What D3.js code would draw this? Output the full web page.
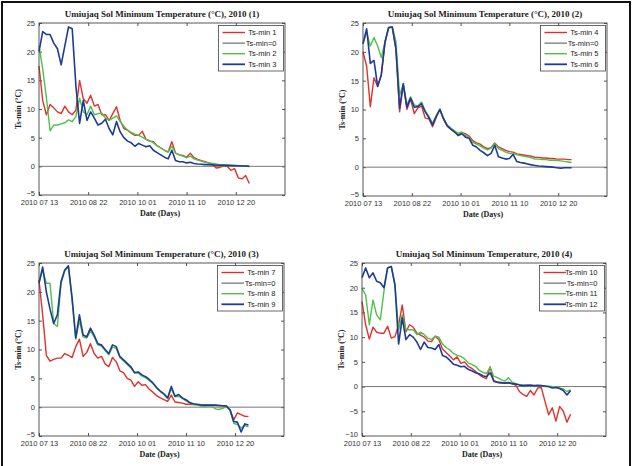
<!DOCTYPE html>
<html>
<head>
<meta charset="utf-8">
<script src="https://cdn.jsdelivr.net/npm/d3@7"></script>
<style>
  body { margin: 0; background: #fff; }
  svg { display: block; }
  .tick text { font-family: "Liberation Sans", Arial, sans-serif; font-size: 7.5px; fill: #333; }
  .title { font-family: "Liberation Serif", "Times New Roman", serif; font-weight: bold; font-size: 9px; fill: #222; }
  .axis-label { font-family: "Liberation Serif", "Times New Roman", serif; font-weight: bold; font-size: 8px; fill: #222; }
  .legend text { font-family: "Liberation Sans", Arial, sans-serif; font-size: 7.5px; fill: #222; }
</style>
</head>
<body>
<div id="chart"></div>
<script>
// days since 2010-07-13
const days = [0,3,6,9,12,15,18,21,24,27,30,33,36,39,42,45,48,51,54,57,60,63,66,69,72,75,78,81,84,87,
  90,93,96,99,102,105,108,111,114,117,120,123,126,129,132,135,138,141,144,147,150,153,156,159,162,165,168,171];

const xTickDays = [0, 40, 80, 120, 160];
const xTickLabels = ["2010 07 13", "2010 08 22", "2010 10 01", "2010 11 10", "2010 12 20"];
const yTicksA = [-5, 0, 5, 10, 15, 20, 25];
const yTicksB = [-10, -5, 0, 5, 10, 15, 20, 25];

// panel (1)
const tsMin1 = [17.5,11.5,9,10.8,10.2,9.5,9.2,10.5,9.5,9,9.8,15,11.8,11,12.4,10.5,10.8,9,9,8,9.2,10.4,8,6.6,6.3,5.8,5.4,5.4,6.1,4.7,
  4.4,4.3,3.6,3.2,2.8,2.5,4.3,2.3,2.0,1.9,1.6,2.3,1.5,1.2,1.0,0.8,0.6,0.4,-0.3,-0.2,0.1,0.0,-0.7,-0.4,-2.0,-2.2,-1.6,-3.0];
const tsMin2 = [21,17,12,6.2,7.2,7.2,7.4,7.6,8.1,7.8,8.7,11.9,9.5,9,10.5,9,9.2,9.3,8.4,8,8.4,8.8,7.8,7.0,6.3,5.9,5.6,5.4,5.1,4.7,
  4.5,4.1,3.6,3.2,2.8,2.5,3.5,2.3,2.0,1.8,1.5,1.8,1.3,1.1,0.9,0.7,0.6,0.5,0.4,0.3,0.3,0.3,0.2,0.2,0.1,0.1,0.1,0.0];
const tsMin3 = [20,23.5,23,23,21.5,20.5,17.7,21,24.3,24,14,7.5,11.5,8,9.5,8.4,7.2,7.5,8.2,6.6,5.5,7.8,6,5,4.4,4.1,3.5,4,3.7,3.4,
  3.6,2.8,2.4,2.0,1.6,1.3,2.8,1.0,0.8,0.8,0.6,0.7,0.5,0.4,0.35,0.3,0.3,0.25,0.2,0.2,0.2,0.15,0.15,0.1,0.1,0.05,0.05,0];

// panel (2)
const tsMin4 = [20,17.5,10.5,15.5,14,16,21.5,24.2,24.3,20.5,9.6,14.3,10,11.8,9.3,10.3,10.6,8.5,8.4,7.0,8.6,10,8.3,7.1,6.6,6.1,5.6,6.0,5.8,5.4,
  4.6,4.2,4.0,3.5,3.2,3.4,4.2,3.5,3.2,2.9,2.7,2.6,2.3,2.2,2.1,2.0,1.9,1.7,1.7,1.6,1.6,1.5,1.5,1.4,1.4,1.4,1.3,1.3];
const tsMin5 = [21.4,23.5,21,22.5,21,19,21.7,24.2,24.3,21.8,12.5,14.3,10.8,12.2,10.8,10.6,11.3,9.8,8.8,7.6,8.9,10.1,8.5,7.3,6.8,6.3,5.9,6.1,5.5,5.2,
  4.3,4.0,3.7,3.3,3.0,3.3,4.1,3.2,2.9,2.6,2.4,2.3,2.2,2.0,1.9,1.8,1.6,1.4,1.4,1.3,1.3,1.2,1.2,1.2,1.1,1.0,0.9,0.8];
const tsMin6 = [21.4,24,18,18.5,14,16,21.7,24.2,24.3,20.5,10.2,14.5,10.4,12,10.4,10.5,11,9.6,8.6,7.3,8.8,10,8.4,7.2,6.6,6.1,5.5,5.8,5.2,5.0,
  3.8,3.5,2.9,2.5,2.0,2.4,3.8,1.8,1.6,1.4,1.5,2.2,1.0,0.8,0.7,0.55,0.4,0.3,0.2,0.15,0.1,0.05,0.0,-0.1,-0.2,-0.1,-0.1,-0.1];

// panel (3)
const tsMin7 = [22,16,9,8,8.3,8.5,8.5,9.3,9.0,8.6,10.5,11.8,8.8,9.5,11,9.3,8.5,8.8,7.5,7.0,8.6,7.9,6.3,6.0,5.0,4.7,3.6,4.4,3.8,3.9,
  3.1,2.6,2.0,1.6,1.3,1.0,2.1,0.9,0.8,0.7,0.5,0.5,0.45,0.4,0.4,0.35,0.35,0.35,0.3,0.3,0.25,0.2,-0.5,-2.2,-1.0,-1.3,-1.6,-1.6];
const tsMin8 = [21.5,23.8,21.5,21.5,14.5,14,21.5,23.6,24.4,18.5,11.8,15,12.2,12,13.2,12.2,10.8,10.6,9.8,9.1,10.4,10.2,8.6,8.0,7.4,6.8,5.9,5.9,5.4,5.1,
  4.6,4.1,3.3,2.7,2.2,1.5,3.2,1.8,1.9,1.5,1.1,0.8,0.5,0.4,0.2,0.1,0.2,0.2,-0.3,-0.4,-0.2,0.1,-0.6,-2.8,-3.0,-3.6,-3.2,-3.4];
const tsMin9 = [21.5,24.3,20,17,14.5,16,21.8,23.8,24.5,19,12,16,12.5,12.2,13.7,12.5,11,10.8,10,9.3,10.8,10.5,8.8,8.2,7.6,7,6,6.1,5.6,5.3,
  4.8,4.2,3.4,2.8,2.3,1.6,3.6,1.9,2.2,1.6,1.3,0.8,0.6,0.5,0.4,0.35,0.35,0.35,0.35,0.3,0.25,0.2,-0.5,-2.5,-2.6,-4.3,-2.9,-3.1];

// panel (4)
const tsMin10 = [17.2,12.5,9.6,12,11,10.8,10.8,12.2,9.8,10.1,12.5,16.5,11.1,12.5,12,10.8,10.4,10,9.2,9.1,10.2,9.5,7.6,6.9,6.2,5.4,6.0,4.7,5.0,4.1,
  3.7,3.1,2.4,1.9,1.6,4.0,1.0,0.8,0.7,0.7,0.7,0.6,0.3,-1.0,-1.6,-2.0,-0.8,-1.7,-0.3,-0.2,-3.0,-5.7,-4.3,-7.0,-4.0,-5.0,-7.2,-5.6];
const tsMin11 = [19.9,18.5,12.5,17.5,14.5,13.5,19.3,24,24.3,20.5,11.5,14.5,11.5,11.5,11.5,10.5,11,10.5,9.8,9.5,10.2,10,8.6,7.9,7.4,6.7,6.3,6.1,5.6,4.8,
  4.5,4.1,3.3,2.9,2.6,3.9,2.1,1.8,1.4,1.1,1.8,0.9,0.6,0.4,0.3,0.3,0.2,0.2,0.1,0.1,0.0,0.0,0.0,-0.1,-0.3,-0.5,-1.0,-0.6];
const tsMin12 = [22,24,22,23,21.3,21,20,24,24.3,20.6,8.6,13.9,9.5,10.5,10,9,7.5,9,7.9,7.8,7.5,8.5,6.3,6,5.3,4.5,4.3,4,4.1,3.5,
  3.2,2.8,2.6,2.2,2.0,2.8,1.2,0.9,0.8,0.7,0.8,0.6,0.5,0.3,0.2,0.25,0.3,0.2,0.25,0.2,0.1,0.0,-0.3,-0.2,-0.4,-0.8,-1.7,-0.8];

const colors = { red: "#e3302a", green: "#4cc248", blue: "#1f3b96", zero: "#222" };

const panels = [
  { title: "Umiujaq Sol Minimum Temperature (°C), 2010 (1)", left: 39, right: 285, top: 23, bottom: 195,
    yTicks: yTicksA, series: [tsMin1, tsMin2, tsMin3], names: ["Ts-min 1", "Ts-min 2", "Ts-min 3"] },
  { title: "Umiujaq Sol Minimum Temperature (°C), 2010 (2)", left: 363, right: 607, top: 23, bottom: 196,
    yTicks: yTicksA, series: [tsMin4, tsMin5, tsMin6], names: ["Ts-min 4", "Ts-min 5", "Ts-min 6"] },
  { title: "Umiujaq Sol Minimum Temperature (°C), 2010 (3)", left: 39, right: 284, top: 263, bottom: 436,
    yTicks: yTicksA, series: [tsMin7, tsMin8, tsMin9], names: ["Ts-min 7", "Ts-min 8", "Ts-min 9"] },
  { title: "Umiujaq Sol Minimum Temperature, 2010 (4)", left: 362, right: 606, top: 263, bottom: 436,
    yTicks: yTicksB, series: [tsMin10, tsMin11, tsMin12], names: ["Ts-min 10", "Ts-min 11", "Ts-min 12"] }
];

const svg = d3.select("#chart").append("svg")
  .attr("width", 633)
  .attr("height", 466);

// outer frame
svg.append("rect")
  .attr("x", 2).attr("y", 2)
  .attr("width", 628).attr("height", 480)
  .attr("fill", "none")
  .attr("stroke", "#111")
  .attr("stroke-width", 2);

panels.forEach(p => {
  const x = d3.scaleLinear().domain([0, 200]).range([p.left, p.right]);
  const y = d3.scaleLinear().domain([p.yTicks[0], 25]).range([p.bottom, p.top]);
  const g = svg.append("g");

  // axes (MATLAB style, inward ticks on all sides)
  g.append("g")
    .attr("transform", `translate(0,${p.bottom})`)
    .call(d3.axisBottom(x).tickValues(xTickDays).tickFormat((d, i) => xTickLabels[i])
      .tickSizeInner(-3).tickSizeOuter(0).tickPadding(5));
  g.append("g")
    .attr("transform", `translate(0,${p.top})`)
    .call(d3.axisTop(x).tickValues(xTickDays).tickFormat("").tickSizeInner(-3).tickSizeOuter(0));
  const leftAxis = g.append("g")
    .attr("transform", `translate(${p.left},0)`)
    .call(d3.axisLeft(y).tickValues(p.yTicks).tickSizeInner(-3).tickSizeOuter(0).tickPadding(4));
  // lowest label sits just above the date labels, as in the original
  leftAxis.selectAll(".tick text").filter(d => d === p.yTicks[0]).attr("dy", "0.05em");
  g.append("g")
    .attr("transform", `translate(${p.right},0)`)
    .call(d3.axisRight(y).tickValues(p.yTicks).tickFormat("").tickSizeInner(-3).tickSizeOuter(0));
  g.selectAll(".domain").remove();
  g.selectAll(".tick line").attr("stroke", "#555");

  // zero line
  g.append("line")
    .attr("x1", p.left).attr("x2", p.right)
    .attr("y1", y(0)).attr("y2", y(0))
    .attr("stroke", "#777")
    .attr("stroke-width", 1);

  // series
  const line = d3.line().x((d, i) => x(days[i])).y(d => y(d));
  const seriesColors = [colors.red, colors.green, colors.blue];
  p.series.forEach((s, k) => {
    g.append("path")
      .datum(s)
      .attr("fill", "none")
      .attr("stroke", seriesColors[k])
      .attr("stroke-width", k === 2 ? 1.6 : 1.4)
      .attr("stroke-linejoin", "round")
      .attr("d", line);
  });

  // axes box
  g.append("rect")
    .attr("x", p.left).attr("y", p.top)
    .attr("width", p.right - p.left).attr("height", p.bottom - p.top)
    .attr("fill", "none")
    .attr("stroke", "#444")
    .attr("stroke-width", 0.9);

  // title and labels
  g.append("text")
    .attr("class", "title")
    .attr("x", (p.left + p.right) / 2)
    .attr("y", p.top - 6)
    .attr("text-anchor", "middle")
    .text(p.title);

  g.append("text")
    .attr("class", "axis-label")
    .attr("x", (p.left + p.right) / 2 - 2)
    .attr("y", p.bottom + 21)
    .attr("text-anchor", "middle")
    .text("Date (Days)");

  g.append("text")
    .attr("class", "axis-label")
    .attr("transform", `translate(${p.left - 18},${(p.top + p.bottom) / 2}) rotate(-90)`)
    .attr("text-anchor", "middle")
    .text("Ts-min (°C)");

  // legend
  const legendItems = [
    { name: p.names[0], color: colors.red, w: 1.4 },
    { name: "Ts-min=0", color: colors.zero, w: 0.8 },
    { name: p.names[1], color: colors.green, w: 1.4 },
    { name: p.names[2], color: colors.blue, w: 1.8 }
  ];
  const lw = 65, lh = 45.5;
  const legend = g.append("g")
    .attr("class", "legend")
    .attr("transform", `translate(${p.right - lw - 1.5},${p.top + 2.5})`);
  legend.append("rect")
    .attr("width", lw).attr("height", lh)
    .attr("fill", "#fff")
    .attr("stroke", "#444")
    .attr("stroke-width", 0.8);
  legend.selectAll("g.item")
    .data(legendItems)
    .join("g")
    .attr("class", "item")
    .attr("transform", (d, i) => `translate(0,${7 + i * 10.6})`)
    .each(function (d) {
      const it = d3.select(this);
      it.append("line")
        .attr("x1", 4).attr("x2", 26.5)
        .attr("stroke", d.color)
        .attr("stroke-width", d.w);
      it.append("text")
        .attr("x", 58)
        .attr("y", 2.7)
        .attr("text-anchor", "end")
        .text(d.name);
    });
});
</script>
</body>
</html>
